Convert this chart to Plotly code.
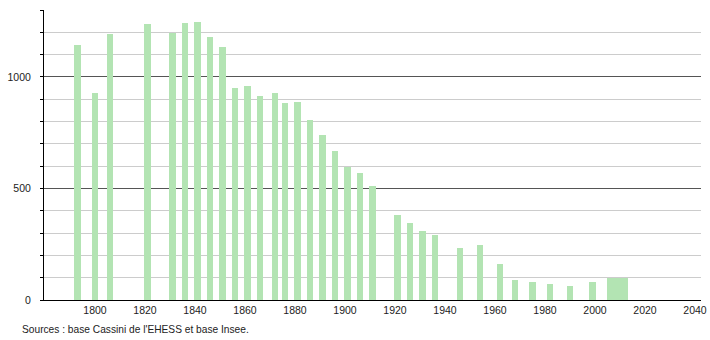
import plotly.graph_objects as go

years = [1793, 1800, 1806, 1821, 1831, 1836, 1841, 1846, 1851, 1856, 1861, 1866,
         1872, 1876, 1881, 1886, 1891, 1896, 1901, 1906, 1911, 1921, 1926, 1931,
         1936, 1946, 1954, 1962, 1968, 1975, 1982, 1990, 1999,
         2006, 2007, 2008, 2009, 2010, 2011, 2012]
population = [1143, 926, 1191, 1236, 1199, 1241, 1245, 1177, 1133, 952, 961, 913,
              930, 884, 887, 805, 739, 666, 597, 568, 511, 379, 347, 310,
              290, 232, 248, 160, 90, 81, 72, 63, 81,
              98, 98, 98, 98, 98, 98, 98]

y_grid = list(range(0, 1301, 100))
y_labels = [str(v) if v % 500 == 0 else "" for v in y_grid]
x_ticks = list(range(1800, 2041, 20))
source_text = "Sources : base Cassini de l'EHESS et base Insee."

font_family = "Liberation Sans, Arial, sans-serif"

fig = go.Figure()
fig.add_trace(go.Bar(
    x=years, y=population, width=2.5,
    marker=dict(color="#b3e4b3", line=dict(width=0)),
    hoverinfo="x+y", showlegend=False,
))
# invisible trace to carry the dark 500/1000 gridlines
fig.add_trace(go.Scatter(x=[years[0]], y=[0], yaxis="y2", mode="markers",
                         marker=dict(opacity=0), showlegend=False, hoverinfo="skip"))

fig.update_layout(
    width=710, height=340,
    margin=dict(l=44, r=9, t=10, b=40, autoexpand=False),
    paper_bgcolor="white", plot_bgcolor="white",
    font=dict(family=font_family, size=10.5, color="#222222"),
    bargap=0,
    xaxis=dict(
        range=[1779.6, 2042.4], tickvals=x_ticks, showgrid=False, zeroline=False,
        showline=True, linecolor="black", linewidth=1, ticks="", automargin=False,
        tickfont=dict(size=10.5, color="#222222"),
    ),
    yaxis=dict(
        range=[0, 1300], tickvals=y_grid, ticktext=y_labels, automargin=False,
        showgrid=True, gridcolor="#cccccc", gridwidth=1, zeroline=False,
        showline=True, linecolor="black", linewidth=1,
        ticks="outside", ticklen=3, tickcolor="black", ticklabelstandoff=7,
        tickfont=dict(size=10.5, color="#222222"),
    ),
    yaxis2=dict(
        range=[0, 1300], overlaying="y", tickvals=[500, 1000], automargin=False,
        showticklabels=False, showgrid=True, gridcolor="#555555", gridwidth=1,
        zeroline=False, showline=False, ticks="",
    ),
    annotations=[dict(
        text=source_text, xref="paper", yref="paper", x=-0.036, y=-0.103,
        xanchor="left", yanchor="middle", showarrow=False,
        font=dict(size=10.2, color="#222222", family=font_family),
    )],
)

fig.write_html("out.html")
